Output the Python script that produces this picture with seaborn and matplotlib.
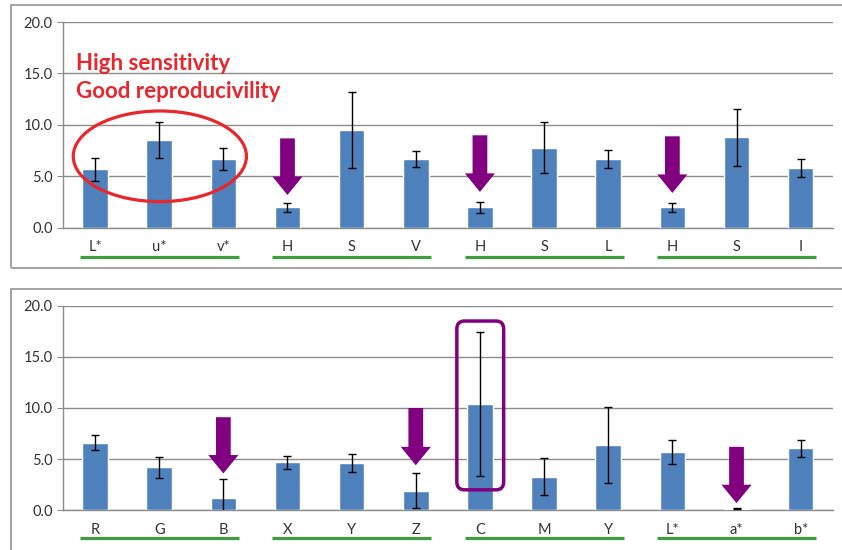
import matplotlib
matplotlib.use("Agg")
from matplotlib import pyplot as plt
from matplotlib.patches import Ellipse, FancyBboxPatch, Rectangle
from matplotlib.transforms import blended_transform_factory
import seaborn as sns
import pandas as pd

# top panel: L*u*v*, HSV, HSL, HSI
top_labels = ["L*", "u*", "v*", "H", "S", "V", "H", "S", "L", "H", "S", "I"]
top_means = [5.7, 8.5, 6.7, 2.0, 9.5, 6.7, 2.0, 7.8, 6.7, 2.0, 8.8, 5.8]
top_errs = [1.1, 1.75, 1.05, 0.45, 3.7, 0.8, 0.5, 2.5, 0.85, 0.45, 2.75, 0.85]

# bottom panel: RGB, XYZ, CMY, L*a*b*
bot_labels = ["R", "G", "B", "X", "Y", "Z", "C", "M", "Y", "L*", "a*", "b*"]
bot_means = [6.6, 4.2, 1.2, 4.7, 4.6, 1.9, 10.4, 3.3, 6.4, 5.7, 0.13, 6.05]
bot_errs = [0.75, 1.05, 1.85, 0.65, 0.9, 1.7, 7.0, 1.85, 3.7, 1.15, 0.05, 0.8]

groups = [(0, 2), (3, 5), (6, 8), (9, 11)]

# arrows: (category index, shaft top, head start, tip)
top_arrows = [(3, 8.7, 5.0, 3.2), (6, 9.0, 5.3, 3.5), (9, 8.9, 5.2, 3.4)]
bot_arrows = [(2, 9.1, 5.4, 3.6), (5, 10.0, 6.2, 4.4), (10, 6.2, 2.5, 0.7)]

BAR = "#4F81BD"
GRID = "#8C8C8C"
PURPLE = "#800080"
GREEN = "#3E9E3E"
RED = "#E8262C"

sns.set_style("white")
plt.rcParams["font.family"] = ["Lato", "DejaVu Sans"]

fig = plt.figure(figsize=(8.42, 5.5), dpi=100)
ax_top = fig.add_axes([0.0748, 0.5855, 0.9142, 0.3745])
ax_bot = fig.add_axes([0.0748, 0.0722, 0.9142, 0.372])

# chart area frames
for y0, h in [(0.5127, 0.4782), (-0.01, 0.4845)]:
    fig.add_artist(Rectangle((11 / 842, y0), 1.0, h, transform=fig.transFigure,
                             fill=False, edgecolor="#A6A6A6", lw=1.5))


def draw_panel(ax, labels, means, errs, arrows, line_y):
    n = len(labels)
    df = pd.DataFrame({"pos": range(n), "val": means})
    sns.barplot(data=df, x="pos", y="val", color=BAR, saturation=1,
                width=0.4, errorbar=None, ax=ax, zorder=3)
    ax.errorbar(range(n), means, yerr=errs, fmt="none", ecolor="black",
                elinewidth=1, capsize=3, capthick=1, zorder=4)

    ax.set_ylim(0, 20)
    ax.set_xlim(-0.5, n - 0.5)
    ax.set_yticks([0, 5, 10, 15, 20])
    ax.set_yticklabels([f"{v:.1f}" for v in [0, 5, 10, 15, 20]])
    ax.set_xticks(range(n))
    ax.set_xticklabels(labels)
    ax.set_xticks([i - 0.5 for i in range(n + 1)], minor=True)
    ax.tick_params(axis="x", which="major", length=0, pad=9,
                   labelsize=10.5, labelcolor="#333333")
    ax.tick_params(axis="x", which="minor", length=4, color=GRID, direction="out")
    ax.tick_params(axis="y", length=4, color=GRID, labelsize=10.5,
                   labelcolor="#333333", left=True)
    ax.set_xlabel("")
    ax.set_ylabel("")
    ax.yaxis.grid(True, color=GRID, lw=1, zorder=0)
    ax.set_axisbelow(True)
    for side in ["top", "right"]:
        ax.spines[side].set_visible(False)
    for side in ["left", "bottom"]:
        ax.spines[side].set_color(GRID)
        ax.spines[side].set_linewidth(1)

    # green underlines for each colour space
    trans = blended_transform_factory(ax.transData, ax.transAxes)
    for a, b in groups:
        ax.plot([a - 0.24, b + 0.24], [line_y, line_y], transform=trans,
                color=GREEN, lw=2.3, clip_on=False, solid_capstyle="butt")

    for idx, y_top, y_head, y_tip in arrows:
        ax.arrow(idx, y_top, 0, y_tip - y_top, width=0.23, head_width=0.47,
                 head_length=y_head - y_tip, length_includes_head=True,
                 color=PURPLE, lw=0, zorder=5)


draw_panel(ax_top, top_labels, top_means, top_errs, top_arrows, -0.139)
draw_panel(ax_bot, bot_labels, bot_means, bot_errs, bot_arrows, -0.137)

# highlight: high sensitivity, good reproducibility
ax_top.add_patch(Ellipse((1.01, 6.96), 2.7, 8.8, fill=False,
                         edgecolor=RED, lw=2.3, zorder=6))
ax_top.text(-0.3, 16.0, "High sensitivity", color=RED, fontsize=16,
            fontweight="bold", va="center", ha="left", zorder=6)
ax_top.text(-0.3, 13.3, "Good reproducivility", color=RED, fontsize=16,
            fontweight="bold", va="center", ha="left", zorder=6)

# box around C
ax_bot.add_patch(FancyBboxPatch((5.64, 2.0), 0.73, 16.5,
                                boxstyle="round,pad=0,rounding_size=0.12",
                                mutation_aspect=6.4, fill=False,
                                edgecolor=PURPLE, lw=2.5, zorder=6))

fig.savefig("out.png", dpi=100)
